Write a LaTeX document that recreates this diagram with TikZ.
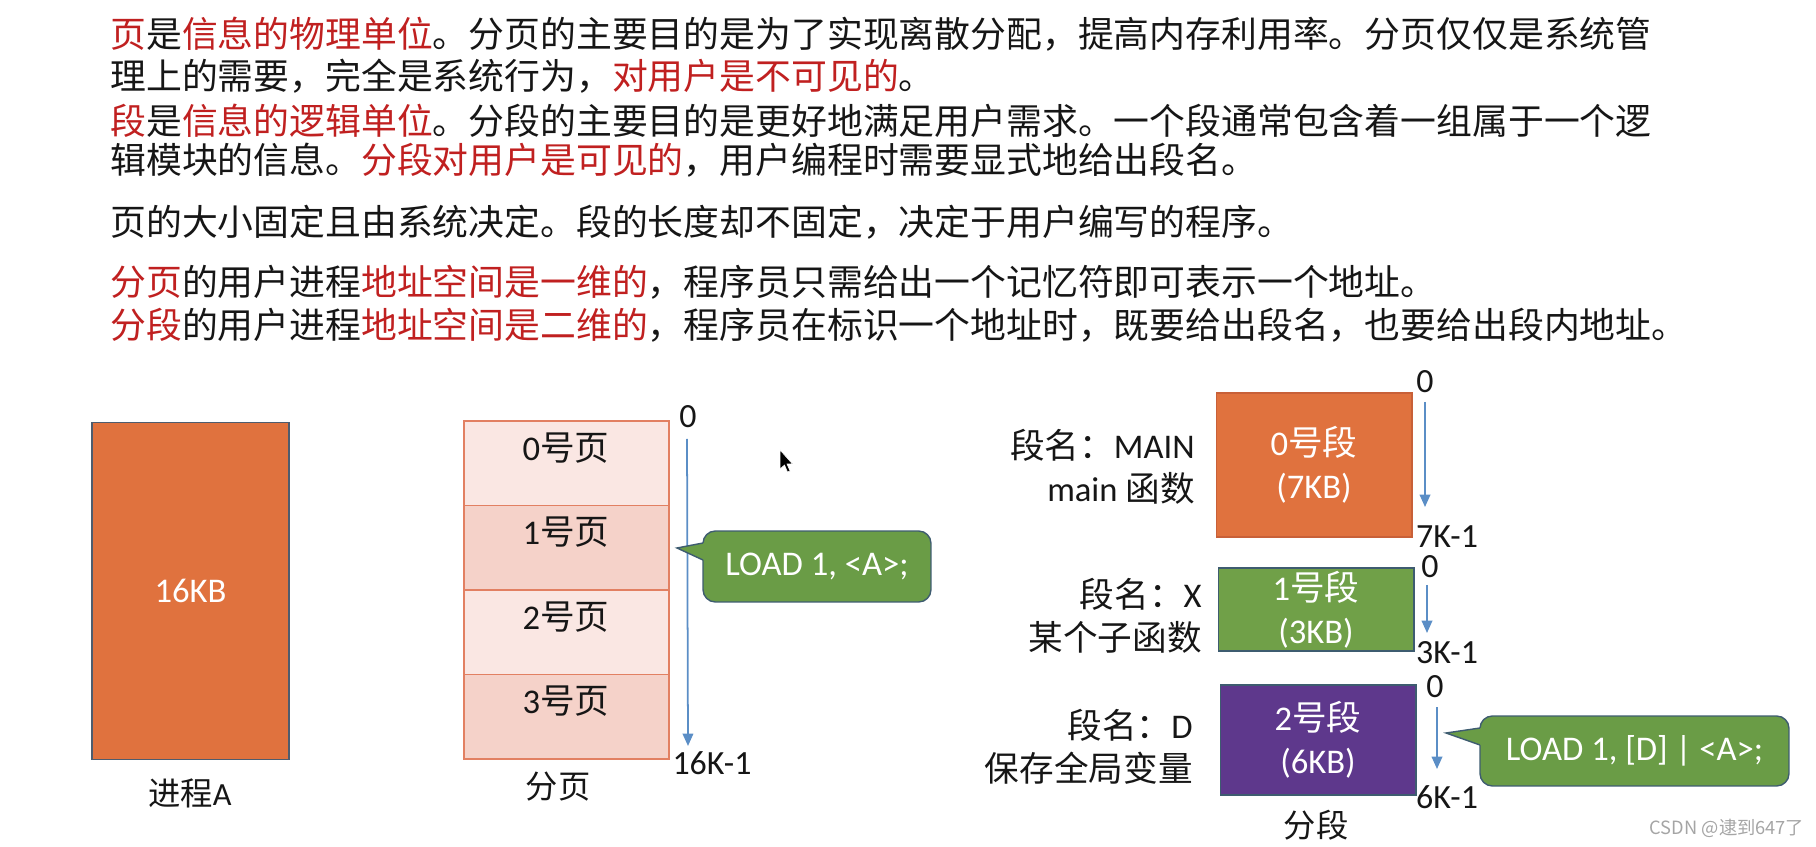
\documentclass[tikz,border=0pt]{standalone}
\usepackage{fontspec}
\setmainfont{Carlito}
\newfontfamily\cjk{Noto Sans CJK SC}
\usetikzlibrary{arrows.meta}

\definecolor{hlred}{RGB}{192,32,32}
\definecolor{inkblack}{RGB}{22,22,22}
\definecolor{boxorange}{RGB}{224,114,62}
\definecolor{orangeedge}{RGB}{200,96,56}
\definecolor{procedge}{RGB}{78,92,110}
\definecolor{pagelight}{RGB}{250,231,227}
\definecolor{pagedark}{RGB}{245,210,201}
\definecolor{pageedge}{RGB}{226,128,98}
\definecolor{seggreen}{RGB}{112,160,72}
\definecolor{segpurple}{RGB}{94,56,140}
\definecolor{tipgreen}{RGB}{106,156,70}
\definecolor{tipedge}{RGB}{62,92,112}
\definecolor{addrblue}{RGB}{91,142,198}
\definecolor{wmgray}{RGB}{165,165,165}

\newcommand\hl[1]{\textcolor{hlred}{#1}}
\newcommand\textsz{\fontsize{20.4}{24}\selectfont}
\newcommand\labelsz{\fontsize{19.7}{24.5}\selectfont}
\newcommand\addrsz{\fontsize{19.3}{23}\selectfont}
\newcommand\capsz{\fontsize{18.4}{22}\selectfont}

\begin{document}
\begin{tikzpicture}[x=0.02cm,y=-0.02cm,
    textline/.style={anchor=base west,inner sep=0,text=inkblack,font=\cjk\textsz},
    blockbox/.style={draw,line width=0.6pt,inner sep=0,text=white,font=\labelsz,align=center},
    pagecell/.style={draw=pageedge,line width=1.1pt,inner sep=0,minimum width=4.1cm,minimum height=1.69cm},
    pagelabel/.style={inner sep=0,text=inkblack,font=\labelsz},
    seglabel/.style={anchor=east,align=right,inner sep=0,text=inkblack,font=\labelsz},
    addr/.style={inner sep=0,text=inkblack,font=\addrsz},
    caption/.style={inner sep=0,text=inkblack,font=\cjk\capsz},
    addrarrow/.style={addrblue,line width=1pt,-{Triangle[length=7pt,width=6pt]}},
    callout/.style={fill=tipgreen,draw=tipedge,line width=0.8pt,rounded corners=7pt,inner sep=0,text=white,font=\labelsz}]
    \useasboundingbox (0,0) rectangle (1816,847);

    % text above the pictures
    \node[textline] (l1) at (110,48) {\hl{页}是\hl{信息的物理单位}。分页的主要目的是为了实现离散分配，提高内存利用率。分页仅仅是系统管};
    \node[textline] (l2) at (110,90) {理上的需要，完全是系统行为，\hl{对用户是不可见的}。};
    \node[textline] (l3) at (110,135) {\hl{段}是\hl{信息的逻辑单位}。分段的主要目的是更好地满足用户需求。一个段通常包含着一组属于一个逻};
    \node[textline] (l4) at (110,174) {辑模块的信息。\hl{分段对用户是可见的}，用户编程时需要显式地给出段名。};
    \node[textline] (l5) at (110,236) {页的大小固定且由系统决定。段的长度却不固定，决定于用户编写的程序。};
    \node[textline] (l6) at (110,296) {\hl{分页}的用户进程\hl{地址空间是一维的}，程序员只需给出一个记忆符即可表示一个地址。};
    \node[textline] (l7) at (110,339) {\hl{分段}的用户进程\hl{地址空间是二维的}，程序员在标识一个地址时，既要给出段名，也要给出段内地址。};

    % process A
    \node[blockbox,fill=boxorange,draw=procedge,minimum width=3.94cm,minimum height=6.76cm] (procA) at (190.5,591) {16KB};
    \node[caption] (procAcap) at (190,793) {进程{\rmfamily A}};

    % paging
    \foreach \i/\shade in {0/pagelight,1/pagedark,2/pagelight,3/pagedark} {
        \node[pagecell,fill=\shade] (cell\i) at (566.5,463.25+84.5*\i) {};
        \node[pagelabel] (pg\i) at (566,448+84.5*\i) {\i{\cjk 号页}};
    }
    \node[caption] (pagecap) at (558,787) {分页};
    \node[addr] (pgzero) at (688,417) {0};
    \node[addr] (pgend) at (712,763) {16K-1};
    \coordinate (pgtop) at (687,439);
    \coordinate (pgbot) at (688,746);
    \draw[addrarrow] (pgtop) -- (pgbot);

    \node[callout,minimum width=4.56cm,minimum height=1.42cm] (load1) at (817,566.5) {LOAD 1, <A>;};
    \coordinate (load1tip) at (677,548);
    \fill[tipgreen] (709,542) -- (703,543) -- (load1tip) -- (703,560) -- (709,561) -- cycle;
    \draw[tipedge,line width=0.8pt,line join=miter] (703,543) -- (load1tip) -- (703,560);

    % mouse pointer
    \fill[black,draw=white,line width=0.3pt,shift={(780,450)}] (0,0) -- (0,19) -- (4.5,15) -- (7.5,22) -- (10,21) -- (7,14) -- (12.5,14) -- cycle;

    % segments
    \node[blockbox,fill=boxorange,draw=orangeedge,minimum width=3.92cm,minimum height=2.88cm] (seg0) at (1314,465) {0{\cjk 号段}\\(7KB)};
    \node[blockbox,fill=seggreen,draw=tipedge,minimum width=3.92cm,minimum height=1.66cm] (seg1) at (1316,609.5) {1{\cjk 号段}\\(3KB)};
    \node[blockbox,fill=segpurple,draw=tipedge,minimum width=3.92cm,minimum height=2.2cm] (seg2) at (1318,740) {2{\cjk 号段}\\(6KB)};

    \node[seglabel] (seg0name) at (1195,466.5) {{\cjk 段名：}MAIN\\main {\cjk 函数}};
    \node[seglabel] (seg1name) at (1202,616) {{\cjk 段名：}X\\{\cjk 某个子函数}};
    \node[seglabel] (seg2name) at (1193,747) {{\cjk 段名：}D\\{\cjk 保存全局变量}};
    \node[caption] (segcap) at (1316,825) {分段};

    \node[addr] (seg0zero) at (1425,382) {0};
    \node[addr] (seg0end) at (1447,537) {7K-1};
    \coordinate (seg0top) at (1425,402);
    \coordinate (seg0bot) at (1425,507);
    \draw[addrarrow] (seg0top) -- (seg0bot);

    \node[addr] (seg1zero) at (1430,567) {0};
    \node[addr] (seg1end) at (1447,653) {3K-1};
    \coordinate (seg1top) at (1427,585);
    \coordinate (seg1bot) at (1427,633);
    \draw[addrarrow] (seg1top) -- (seg1bot);

    \node[addr] (seg2zero) at (1435,687) {0};
    \node[addr] (seg2end) at (1447,797) {6K-1};
    \coordinate (seg2top) at (1437,707);
    \coordinate (seg2bot) at (1437,769);
    \draw[addrarrow] (seg2top) -- (seg2bot);

    \node[callout,minimum width=6.18cm,minimum height=1.4cm] (load2) at (1634.5,751) {LOAD 1, [D] | <A>;};
    \coordinate (load2tip) at (1446,733);
    \fill[tipgreen] (1486,727) -- (1480,728) -- (load2tip) -- (1480,745) -- (1486,746) -- cycle;
    \draw[tipedge,line width=0.8pt,line join=miter] (1480,728) -- (load2tip) -- (1480,745);

    \node[font=\cjk\fontsize{10.4}{12}\selectfont,text=wmgray,inner sep=0] (mark) at (1727,828) {CSDN @逮到647了};
\end{tikzpicture}
\end{document}
